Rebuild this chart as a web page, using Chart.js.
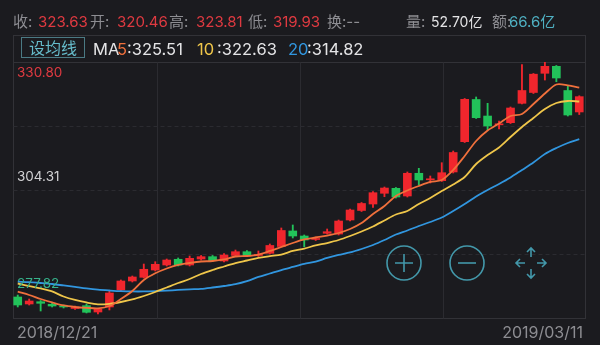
<!DOCTYPE html>
<html><head><meta charset="utf-8">
<script src="https://cdn.jsdelivr.net/npm/chart.js@4/dist/chart.umd.min.js"></script>
<style>
html,body{margin:0;padding:0;background:#1b1b1f;overflow:hidden;}
canvas{display:block;}
</style></head>
<body>
<canvas id="c" width="600" height="345"></canvas>
<script>
const dates = ['2018/12/21','2018/12/24','2018/12/25','2018/12/26','2018/12/27','2018/12/28',
'2019/01/02','2019/01/03','2019/01/04','2019/01/07','2019/01/08','2019/01/09','2019/01/10','2019/01/11',
'2019/01/14','2019/01/15','2019/01/16','2019/01/17','2019/01/18','2019/01/21','2019/01/22','2019/01/23',
'2019/01/24','2019/01/25','2019/01/28','2019/01/29','2019/01/30','2019/01/31','2019/02/01',
'2019/02/11','2019/02/12','2019/02/13','2019/02/14','2019/02/15','2019/02/18','2019/02/19','2019/02/20',
'2019/02/21','2019/02/22','2019/02/25','2019/02/26','2019/02/27','2019/02/28','2019/03/01',
'2019/03/04','2019/03/05','2019/03/06','2019/03/07','2019/03/08','2019/03/11'];

const opens = [282.17,280.72,281.19,280.66,280.30,279.79,280.37,279.06,280.10,283.62,
285.48,286.24,287.75,288.79,289.97,288.79,290.03,290.51,289.62,290.76,
291.54,290.76,291.21,292.62,295.83,294.79,294.07,295.35,295.20,298.10,
300.07,301.41,303.63,304.66,303.07,307.77,306.42,306.24,308.04,314.31,
323.04,319.62,317.80,318.24,322.25,324.49,328.46,329.91,324.90,320.46];
const highs = [282.58,281.75,281.44,280.93,280.51,280.30,280.72,279.79,283.41,285.69,
286.51,288.99,289.47,290.03,290.24,290.65,290.76,290.76,291.17,291.89,
291.79,291.69,293.14,296.45,297.07,295.00,294.58,296.24,298.10,300.38,
301.72,304.00,304.93,304.83,308.04,308.80,307.21,309.96,312.38,323.25,
323.56,322.25,318.59,321.49,330.28,328.42,330.80,330.08,325.98,323.81];
const lows = [280.10,280.51,279.27,280.10,279.89,279.58,278.86,278.65,279.48,283.41,
285.27,286.10,287.55,288.58,288.58,288.58,289.82,289.51,289.41,290.55,
290.65,290.55,291.07,292.51,294.38,292.58,293.86,295.20,295.00,297.89,
299.86,300.69,302.92,302.65,302.86,305.35,305.76,306.07,307.83,314.14,
319.11,316.73,316.93,318.07,322.11,324.28,327.07,326.72,319.62,319.93];
const closes = [280.51,281.34,280.86,280.30,280.10,280.10,279.00,279.68,283.00,285.48,
286.31,287.90,288.93,289.82,288.79,290.17,290.51,289.68,290.86,291.54,
290.76,290.97,292.83,295.93,294.79,293.96,294.21,295.68,297.89,300.17,
301.52,303.75,304.72,302.86,307.77,306.38,306.63,307.89,312.07,323.08,
319.27,317.56,317.85,321.28,324.90,328.28,329.91,327.49,319.83,323.63];

const ma5 = [283.26,282.58,281.75,281.03,280.41,280.10,279.93,279.83,280.30,281.75,
283.41,285.68,287.07,288.06,288.79,289.20,289.51,289.62,289.93,290.55,
290.65,290.96,291.69,292.51,293.34,294.07,294.48,294.89,295.41,296.24,
297.48,299.34,301.00,303.07,304.21,305.14,305.97,306.38,308.45,311.35,
314.45,316.62,318.07,319.62,320.04,322.11,324.28,326.14,325.98,325.51];
const ma10 = [284.96,284.44,283.93,283.31,282.27,281.55,281.03,280.66,280.76,281.13,
281.65,282.37,283.20,284.13,285.06,285.89,286.93,287.75,288.48,289.20,
289.72,290.24,290.61,290.96,291.69,292.20,292.83,293.34,293.96,294.79,
295.72,296.76,298.00,299.24,299.96,301.41,302.66,304.10,305.45,307.00,
309.69,311.55,313.11,315.28,317.35,319.21,321.07,322.32,322.73,322.63];
const ma20 = [285.33,285.23,285.06,284.86,284.55,284.24,283.93,283.68,283.51,283.37,
283.31,283.31,283.37,283.47,283.62,283.76,283.86,284.13,284.44,284.82,
285.44,286.31,287.03,287.75,288.38,289.00,289.51,290.24,290.86,291.38,
292.10,292.93,293.96,295.10,295.93,296.86,297.69,298.62,299.96,301.41,
302.97,304.31,305.55,306.90,308.45,310.00,311.76,313.00,314.04,314.82];

const yMin = 277.82, yMax = 330.80;
const yTickLabels = ['330.80','304.31','277.82'];
const xTickLabels = ['2018/12/21','2019/03/11'];
const quoteLabels = ['收:','开:','高:','低:','换:--'];
const quoteValues = ['323.63','320.46','323.81','319.93'];
const volumeTexts = ['量:','52.70亿','额:','66.6亿'];
const maNames = ['MA','5','10','20'];
const maValues = ['325.51','322.63','314.82'];

const BG = '#1b1b1f';
const RED = '#f0262d', GREEN = '#22c35a';
const C5 = '#f0703c', C10 = '#efc64a', C20 = '#3196df';
const TXT_RED = '#df3a41', GREY = '#8d8d92', WHITE = '#e4e4e6', TEAL = '#4fb0c2';
const NUM = 'Inter, "Noto Sans CJK SC", sans-serif';

const colors = closes.map((c, i) => c >= opens[i] ? RED : GREEN);

function txt(ctx, s, x, y, color, size, align) {
  ctx.font = size + 'px ' + NUM;
  ctx.fillStyle = color;
  ctx.textAlign = align || 'left';
  ctx.textBaseline = 'alphabetic';
  ctx.fillText(s, x, y);
}

const panel = {
  id: 'panel',
  beforeDraw(chart) {
    const ctx = chart.ctx;
    ctx.save();
    ctx.fillStyle = BG;
    ctx.fillRect(0, 0, chart.width, chart.height);
    ctx.restore();
  },
  beforeDatasetsDraw(chart) {
    const ctx = chart.ctx, a = chart.chartArea, y = chart.scales.y;
    const L = Math.round(a.left) + 1.5, R = Math.round(a.right) + 0.5;
    const top = Math.round(y.getPixelForValue(yMax)) + 0.5;
    const bot = Math.round(y.getPixelForValue(yMin)) + 0.5;
    ctx.save();
    ctx.lineWidth = 1;
    ctx.strokeStyle = '#323237';
    ctx.strokeRect(L, 35.5, R - L, bot - 35.5);
    ctx.beginPath(); ctx.moveTo(L, top); ctx.lineTo(R, top); ctx.stroke();
    ctx.strokeStyle = '#2b2b30';
    for (let k = 1; k < 4; k++) {
      const x = Math.round(L + (R - L) * k / 4) + 0.5;
      ctx.beginPath(); ctx.moveTo(x, top); ctx.lineTo(x, bot); ctx.stroke();
    }
    ctx.setLineDash([4, 3]);
    for (let k = 1; k < 4; k++) {
      const v = yMax - (yMax - yMin) * k / 4;
      const py = Math.round(y.getPixelForValue(v)) + 0.5;
      ctx.beginPath(); ctx.moveTo(L, py); ctx.lineTo(R, py); ctx.stroke();
    }
    ctx.restore();
  },
  afterDatasetsDraw(chart) {
    const ctx = chart.ctx, a = chart.chartArea, y = chart.scales.y;
    const L = Math.round(a.left) + 1.5, R = Math.round(a.right) + 0.5;
    ctx.save();
    // y labels
    const pTop = y.getPixelForValue(yMax), pMid = y.getPixelForValue((yMax + yMin) / 2), pBot = y.getPixelForValue(yMin);
    txt(ctx, yTickLabels[0], L + 3.5, pTop + 14.5, TXT_RED, 13.5);
    txt(ctx, yTickLabels[1], L + 3.5, pMid - 9.5, '#d2d2d4', 13.5);
    txt(ctx, yTickLabels[2], L + 3.5, pBot - 30, '#36b28a', 13.5);
    // x labels
    txt(ctx, xTickLabels[0], L + 3.5, 338, GREY, 16);
    txt(ctx, xTickLabels[1], R - 2.5, 338, GREY, 16, 'right');
    // header row 1
    const r1 = 26.5;
    txt(ctx, quoteLabels[0], 13, r1, GREY, 15);
    txt(ctx, quoteValues[0], 38, r1, TXT_RED, 15);
    txt(ctx, quoteLabels[1], 90, r1, GREY, 15);
    txt(ctx, quoteValues[1], 117, r1, TXT_RED, 15);
    txt(ctx, quoteLabels[2], 169, r1, GREY, 15);
    txt(ctx, quoteValues[2], 196, r1, TXT_RED, 15);
    txt(ctx, quoteLabels[3], 248, r1, GREY, 15);
    txt(ctx, quoteValues[3], 273, r1, TXT_RED, 15);
    txt(ctx, quoteLabels[4], 327, r1, GREY, 15);
    txt(ctx, volumeTexts[0], 406, r1, GREY, 15);
    txt(ctx, volumeTexts[1], 431, r1, WHITE, 14);
    txt(ctx, volumeTexts[2], 492, r1, GREY, 15);
    txt(ctx, volumeTexts[3], 509, r1, TEAL, 15);
    // header row 2
    ctx.strokeStyle = '#4b7a84'; ctx.lineWidth = 1;
    ctx.fillStyle = BG; ctx.fillRect(21.5, 37.5, 63, 20);
    ctx.strokeRect(21.5, 37.5, 63, 20);
    txt(ctx, '设均线', 53, 53.5, '#66bccb', 16, 'center');
    const r2 = 55;
    txt(ctx, maNames[0], 93, r2, WHITE, 16.5);
    txt(ctx, maNames[1], 117, r2, C5, 16.5);
    txt(ctx, ':' + maValues[0], 127, r2, WHITE, 16.5);
    txt(ctx, maNames[2], 197, r2, C10, 16.5);
    txt(ctx, ':' + maValues[1], 217, r2, WHITE, 16.5);
    txt(ctx, maNames[3], 288, r2, C20, 16.5);
    txt(ctx, ':' + maValues[2], 307, r2, WHITE, 16.5);
    // zoom buttons
    ctx.strokeStyle = '#4398aa'; ctx.lineWidth = 1.6;
    const by = 263;
    ctx.beginPath(); ctx.arc(404, by, 17, 0, Math.PI * 2); ctx.stroke();
    ctx.beginPath(); ctx.moveTo(395, by); ctx.lineTo(413, by); ctx.moveTo(404, by - 9); ctx.lineTo(404, by + 9); ctx.stroke();
    ctx.beginPath(); ctx.arc(467, by, 17, 0, Math.PI * 2); ctx.stroke();
    ctx.beginPath(); ctx.moveTo(458, by); ctx.lineTo(476, by); ctx.stroke();
    const cx = 531;
    [[0,-1],[0,1],[-1,0],[1,0]].forEach(([dx, dy]) => {
      const tx = cx + dx * 15, ty = by + dy * 15;
      ctx.beginPath();
      ctx.moveTo(cx + dx * 6, by + dy * 6); ctx.lineTo(tx, ty);
      ctx.moveTo(tx - dx * 4 + dy * 4, ty - dy * 4 + dx * 4); ctx.lineTo(tx, ty);
      ctx.lineTo(tx - dx * 4 - dy * 4, ty - dy * 4 - dx * 4);
      ctx.stroke();
    });
    ctx.restore();
  }
};

const lineDs = (label, data, color) => ({
  type: 'line', label, data, borderColor: color, borderWidth: 1.8,
  pointRadius: 0, tension: 0.3, fill: false, order: 0
});

new Chart(document.getElementById('c'), {
  type: 'bar',
  data: {
    labels: dates,
    datasets: [
      lineDs('MA5', ma5, C5),
      lineDs('MA10', ma10, C10),
      lineDs('MA20', ma20, C20),
      { label: 'body', data: opens.map((o, i) => [o, closes[i]]), backgroundColor: colors,
        barThickness: 8, minBarLength: 1, grouped: false, borderWidth: 0, order: 1 },
      { label: 'wick', data: lows.map((l, i) => [l, highs[i]]), backgroundColor: colors,
        barThickness: 1.2, grouped: false, borderWidth: 0, order: 2 }
    ]
  },
  options: {
    responsive: false, animation: false, devicePixelRatio: 1,
    layout: { padding: { left: 12, right: 15, top: 62, bottom: 27 } },
    plugins: { legend: { display: false }, tooltip: { enabled: false } },
    scales: {
      x: { display: false, offset: true },
      y: { display: false, min: yMin, max: yMax }
    }
  },
  plugins: [panel]
});
</script>
</body></html>
